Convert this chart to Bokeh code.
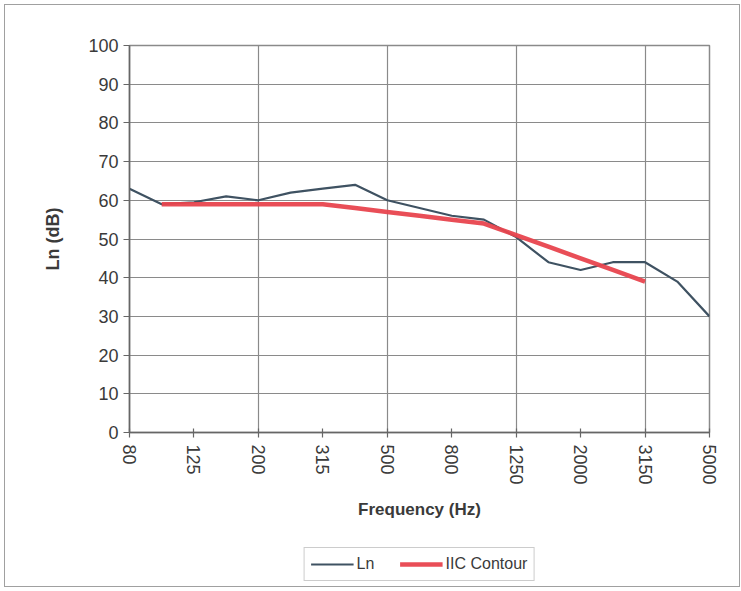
import math
from bokeh.plotting import figure
from bokeh.layouts import column
from bokeh.models import FixedTicker, Range1d, Legend, LegendItem
from bokeh.embed import file_html
from bokeh.resources import INLINE

# Data
freqs = ["80", "100", "125", "160", "200", "250", "315", "400", "500", "630",
         "800", "1000", "1250", "1600", "2000", "2500", "3150", "4000", "5000"]
ln_values = [63, 59, 59.5, 61, 60, 62, 63, 64, 60, 58, 56, 55, 50.5, 44, 42, 44, 44, 39, 30]
iic_freqs = ["100", "125", "160", "200", "250", "315", "400", "500", "630", "800",
             "1000", "1250", "1600", "2000", "2500", "3150"]
iic_values = [59, 59, 59, 59, 59, 59, 58, 57, 56, 55, 54, 51, 48, 45, 42, 39]
tick_labels = ["80", "125", "200", "315", "500", "800", "1250", "2000", "3150", "5000"]
grid_freqs = ["80", "200", "500", "1250", "3150"]
y_ticks = list(range(0, 101, 10))

x_ln = [freqs.index(f) for f in freqs]
x_iic = [freqs.index(f) for f in iic_freqs]
x_ticks = [freqs.index(f) for f in tick_labels]
x_grid = [freqs.index(f) for f in grid_freqs]

FONT = "Liberation Sans"
TXT = "#3a3a3a"
GRID = "#8a8a8a"
LN_COLOR = "#3f5262"
IIC_COLOR = "#e8454e"

p = figure(width=734, height=525, output_backend="svg", toolbar_location=None,
           x_range=Range1d(0, len(freqs) - 1), y_range=Range1d(0, 100),
           min_border_left=124, min_border_right=30, min_border_top=40, min_border_bottom=98)
p.background_fill_color = "white"
p.border_fill_color = "white"
p.outline_line_color = GRID
p.outline_line_width = 1.5

# Lines
p.line(x_ln, ln_values, line_color=LN_COLOR, line_width=2.2)
p.line(x_iic, iic_values, line_color=IIC_COLOR, line_width=4.5, line_alpha=0.95)

# Axes
p.xaxis.ticker = FixedTicker(ticks=x_ticks)
p.xaxis.major_label_overrides = {t: l for t, l in zip(x_ticks, tick_labels)}
p.xaxis.major_label_orientation = -math.pi / 2
p.xaxis.minor_tick_line_color = None
p.xaxis.major_tick_in = 4
p.xaxis.major_tick_out = 5
p.xaxis.axis_label = "Frequency (Hz)"

p.yaxis.ticker = FixedTicker(ticks=y_ticks)
p.yaxis.minor_tick_line_color = None
p.yaxis.major_tick_in = 0
p.yaxis.major_tick_out = 6
p.yaxis.axis_label = "Ln (dB)"

for ax in (p.xaxis[0], p.yaxis[0]):
    ax.axis_line_color = "#666666"
    ax.axis_line_width = 1.5
    ax.major_tick_line_color = "#666666"
    ax.major_tick_line_width = 1.2
    ax.major_label_text_font = FONT
    ax.major_label_text_font_size = "18px"
    ax.major_label_text_color = TXT
    ax.axis_label_text_font = FONT
    ax.axis_label_text_font_style = "bold"
    ax.axis_label_text_color = TXT
p.xaxis.axis_label_text_font_size = "17px"
p.yaxis.axis_label_text_font_size = "18px"
p.xaxis.major_label_standoff = 7
p.xaxis.axis_label_standoff = 12
p.yaxis.major_label_standoff = 5
p.yaxis.axis_label_standoff = 22

# Grid
p.xgrid.ticker = FixedTicker(ticks=x_grid)
p.xgrid.grid_line_color = GRID
p.xgrid.grid_line_width = 1.2
p.ygrid.ticker = FixedTicker(ticks=y_ticks)
p.ygrid.grid_line_color = GRID
p.ygrid.grid_line_width = 1.2

# Legend strip (proxy lines drawn out of view, only their legend glyphs show)
pl = figure(width=734, height=56, output_backend="svg", toolbar_location=None,
            x_range=Range1d(-3, -2), y_range=Range1d(-3, -2),
            x_axis_type=None, y_axis_type=None,
            min_border_left=96, min_border_right=0, min_border_top=12, min_border_bottom=0)
pl.outline_line_color = None
pl.xgrid.visible = False
pl.ygrid.visible = False
l_ln = pl.line(x_ln, ln_values, line_color=LN_COLOR, line_width=2.2)
l_iic = pl.line(x_iic, iic_values, line_color=IIC_COLOR, line_width=4.5, line_alpha=0.95)

legend = Legend(items=[LegendItem(label="Ln", renderers=[l_ln]),
                       LegendItem(label="IIC Contour", renderers=[l_iic])],
                orientation="horizontal", location="center")
legend.label_text_font = FONT
legend.label_text_font_size = "16px"
legend.label_text_color = TXT
legend.border_line_color = "#999999"
legend.border_line_width = 1
legend.glyph_width = 43
legend.spacing = 23
legend.padding = 6
legend.margin = 0
legend.label_standoff = 3
legend.label_height = 18
pl.add_layout(legend, "center")

layout = column(p, pl, spacing=0)
layout.styles = {"border": "1px solid #a0a0a0", "margin": "4px 0 0 4px"}

open("out.html", "w").write(file_html(layout, INLINE))
